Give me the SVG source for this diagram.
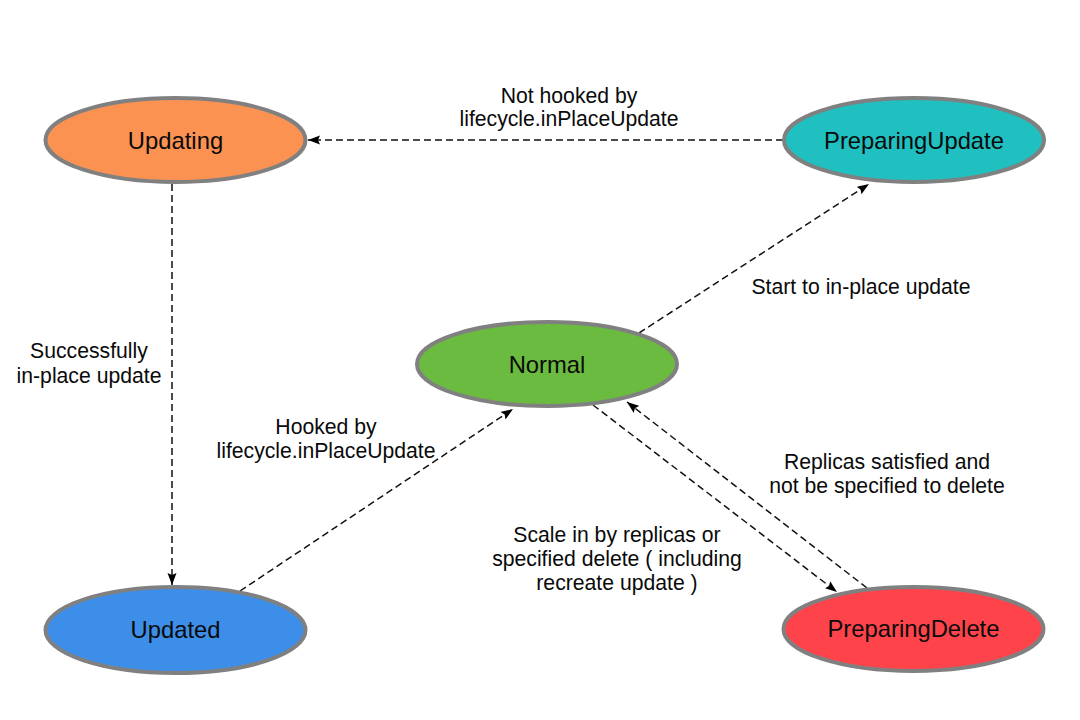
<svg xmlns="http://www.w3.org/2000/svg" width="1080" height="720" viewBox="0 0 1080 720">
  <style>
    .node { stroke: #808080; stroke-width: 4; }
    .ntext { font-family: "Liberation Sans", Arial, Helvetica, sans-serif; font-size: 23.8px; fill: #0a0a0a; text-anchor: middle; }
    .label { font-family: "Liberation Sans", Arial, Helvetica, sans-serif; font-size: 21.2px; fill: #0a0a0a; text-anchor: middle; }
    .conn { stroke: #111; stroke-width: 1.5; stroke-dasharray: 7 4; fill: none; marker-end: url(#arrow); }
  </style>
  <defs>
    <marker id="arrow" markerUnits="userSpaceOnUse" markerWidth="13" markerHeight="10" refX="12" refY="4.5" orient="auto">
      <path d="M0,0 L12,4.5 L0,9 L2,4.5 z" fill="#000"/>
    </marker>
  </defs>
  <rect width="1080" height="720" fill="#ffffff"/>

  <g id="connectors">
    <path id="c-pu-updating" class="conn" d="M783,140 L308,140"/>
    <path id="c-updating-updated" class="conn" d="M172,184 L172,585"/>
    <path id="c-updated-normal" class="conn" d="M240,591 L513,409"/>
    <path id="c-normal-pu" class="conn" d="M639,333 L869,184"/>
    <path id="c-normal-pd" class="conn" d="M593,405 L837,592"/>
    <path id="c-pd-normal" class="conn" d="M867,588 L627,402"/>
  </g>

  <g id="labels">
    <text class="label" x="569" y="103">Not hooked by</text>
    <text class="label" x="569" y="126">lifecycle.inPlaceUpdate</text>
    <text class="label" x="861" y="294">Start to in-place update</text>
    <text class="label" x="89" y="358">Successfully</text>
    <text class="label" x="89" y="383">in-place update</text>
    <text class="label" x="326" y="434">Hooked by</text>
    <text class="label" x="326" y="458">lifecycle.inPlaceUpdate</text>
    <text class="label" x="887" y="469">Replicas satisfied and</text>
    <text class="label" x="887" y="493">not be specified to delete</text>
    <text class="label" x="617" y="542">Scale in by replicas or</text>
    <text class="label" x="617" y="566">specified delete ( including</text>
    <text class="label" x="617" y="590">recreate update )</text>
  </g>

  <g id="node-updating">
    <ellipse class="node" cx="175.5" cy="140" rx="130" ry="42" fill="#FC9252"/>
    <text class="ntext" x="175.5" y="149">Updating</text>
  </g>
  <g id="node-preparingupdate">
    <ellipse class="node" cx="914" cy="140" rx="130" ry="42" fill="#20BFC0"/>
    <text class="ntext" x="914" y="149">PreparingUpdate</text>
  </g>
  <g id="node-normal">
    <ellipse class="node" cx="547" cy="364" rx="130" ry="42" fill="#6BBB40"/>
    <text class="ntext" x="547" y="373">Normal</text>
  </g>
  <g id="node-updated">
    <ellipse class="node" cx="175.5" cy="630" rx="130" ry="43" fill="#3D8EE8"/>
    <text class="ntext" x="175.5" y="638">Updated</text>
  </g>
  <g id="node-preparingdelete">
    <ellipse class="node" cx="913.5" cy="629" rx="130" ry="42" fill="#FF434A"/>
    <text class="ntext" x="913.5" y="637">PreparingDelete</text>
  </g>
</svg>
